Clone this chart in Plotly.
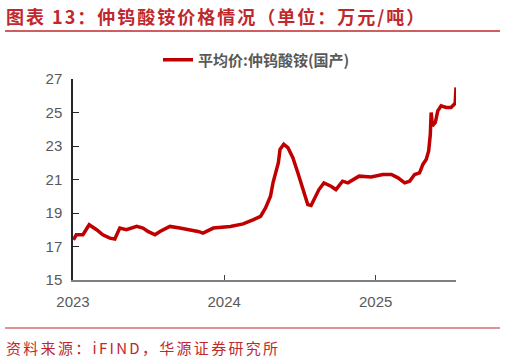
import plotly.graph_objects as go

dates = [
    "2023-01-02", "2023-01-09", "2023-01-25", "2023-02-09", "2023-02-27", "2023-03-14",
    "2023-03-31", "2023-04-12", "2023-04-24", "2023-05-10", "2023-06-04", "2023-06-19",
    "2023-07-01", "2023-07-18", "2023-07-30", "2023-08-23", "2023-09-16", "2023-10-11",
    "2023-10-30", "2023-11-11", "2023-12-06", "2024-01-16", "2024-02-16", "2024-03-12",
    "2024-03-29", "2024-04-10", "2024-04-22", "2024-04-28", "2024-05-11", "2024-05-15",
    "2024-05-24", "2024-06-03", "2024-06-15", "2024-06-27", "2024-07-12", "2024-07-21",
    "2024-07-29", "2024-08-10", "2024-08-17", "2024-08-29", "2024-09-15", "2024-09-27",
    "2024-10-13", "2024-10-26", "2024-11-22", "2024-12-21", "2025-01-18", "2025-02-08",
    "2025-02-24", "2025-03-12", "2025-03-24", "2025-04-05", "2025-04-17", "2025-04-25",
    "2025-05-03", "2025-05-09", "2025-05-13", "2025-05-15", "2025-05-18", "2025-05-25",
    "2025-05-31", "2025-06-08", "2025-06-20", "2025-07-02", "2025-07-12", "2025-07-14",
]
prices = [
    17.4, 17.7, 17.7, 18.3, 18.0, 17.7,
    17.5, 17.45, 18.1, 18.0, 18.2, 18.1,
    17.9, 17.7, 17.9, 18.2, 18.1, 18.0,
    17.9, 17.8, 18.1, 18.2, 18.35, 18.6,
    18.8, 19.3, 20.0, 20.8, 22.0, 22.8,
    23.1, 22.9, 22.3, 21.4, 20.3, 19.5,
    19.45, 20.0, 20.4, 20.8, 20.6, 20.4,
    20.9, 20.8, 21.2, 21.15, 21.3, 21.3,
    21.1, 20.8, 20.9, 21.3, 21.4, 21.9,
    22.2, 22.7, 23.7, 25.0, 24.2, 24.4,
    25.1, 25.4, 25.3, 25.3, 25.55, 26.5,
]
series_name = "平均价:仲钨酸铵(国产)"
tick_vals = ["2023-01-01", "2024-01-01", "2025-01-01"]
tick_text = ["2023", "2024", "2025"]
title_text = "图表 13：仲钨酸铵价格情况（单位：万元/吨）"
source_text = "资料来源：iFIND，华源证券研究所"

RED = "#C00000"
TRED = "#C0282D"
CJK = "Noto Sans CJK SC"
PW, PH = 383, 201  # plot area size in px
L, T = 73, 79

def px(x):
    return (x - L) / PW

def py(y):
    return (T + PH - y) / PH

fig = go.Figure()
fig.add_trace(go.Scatter(
    x=dates, y=prices, mode="lines", name="<b>" + series_name + "</b>",
    line=dict(color=RED, width=3.5),
))

fig.update_layout(
    width=506, height=361,
    margin=dict(l=L, r=506 - L - PW, t=T, b=361 - T - PH),
    paper_bgcolor="white", plot_bgcolor="white",
    font=dict(family=CJK, color="#595959", size=13),
    showlegend=True,
    legend=dict(orientation="h", x=px(158), xanchor="left", y=py(60), yanchor="middle",
                font=dict(size=15, color="#595959", family=CJK), bgcolor="rgba(0,0,0,0)",
                itemwidth=30),
    xaxis=dict(type="date", range=["2023-01-01", "2025-07-14"],
               tickvals=tick_vals, ticktext=tick_text,
               showgrid=False, zeroline=False, showline=True, linecolor="#7f7f7f", linewidth=1.5,
               ticks="inside", ticklen=5, tickcolor="#404040", ticklabelstandoff=7,
               tickfont=dict(family="Liberation Sans, Arial", size=15, color="#595959")),
    yaxis=dict(range=[15, 27], dtick=2, tick0=15,
               showgrid=False, zeroline=False, showline=True, linecolor="#262626", linewidth=1.5,
               ticks="inside", ticklen=6, tickcolor="#262626", ticklabelstandoff=6,
               tickfont=dict(family="Liberation Sans, Arial", size=15, color="#595959")),
)

fig.add_annotation(text="<b>" + title_text + "</b>", xref="paper", yref="paper",
                   x=px(4), y=py(16), xanchor="left", yanchor="middle", showarrow=False,
                   font=dict(family=CJK, size=18, color=TRED))
fig.add_shape(type="line", xref="paper", yref="paper",
              x0=px(5), x1=px(500), y0=py(31), y1=py(31),
              line=dict(color=TRED, width=1.5))
fig.add_shape(type="line", xref="paper", yref="paper",
              x0=px(5), x1=px(500), y0=py(328), y1=py(328),
              line=dict(color=TRED, width=1.2))
fig.add_annotation(text=source_text, xref="paper", yref="paper",
                   x=px(4), y=py(347), xanchor="left", yanchor="middle", showarrow=False,
                   font=dict(family=CJK, size=15, color=TRED))

post = """
document.body.style.margin='0';
var ann = document.querySelectorAll('.annotation-text');
var sp = ['2px', '2.3px'];
for (var i = 0; i < ann.length && i < 2; i++) {
  var el = ann[i];
  var b = el.getBBox();
  el.setAttribute('text-anchor', 'start');
  el.setAttribute('x', b.x);
  el.style.letterSpacing = sp[i];
}
"""
fig.write_html("out.html", post_script=post, config={"displayModeBar": False})
